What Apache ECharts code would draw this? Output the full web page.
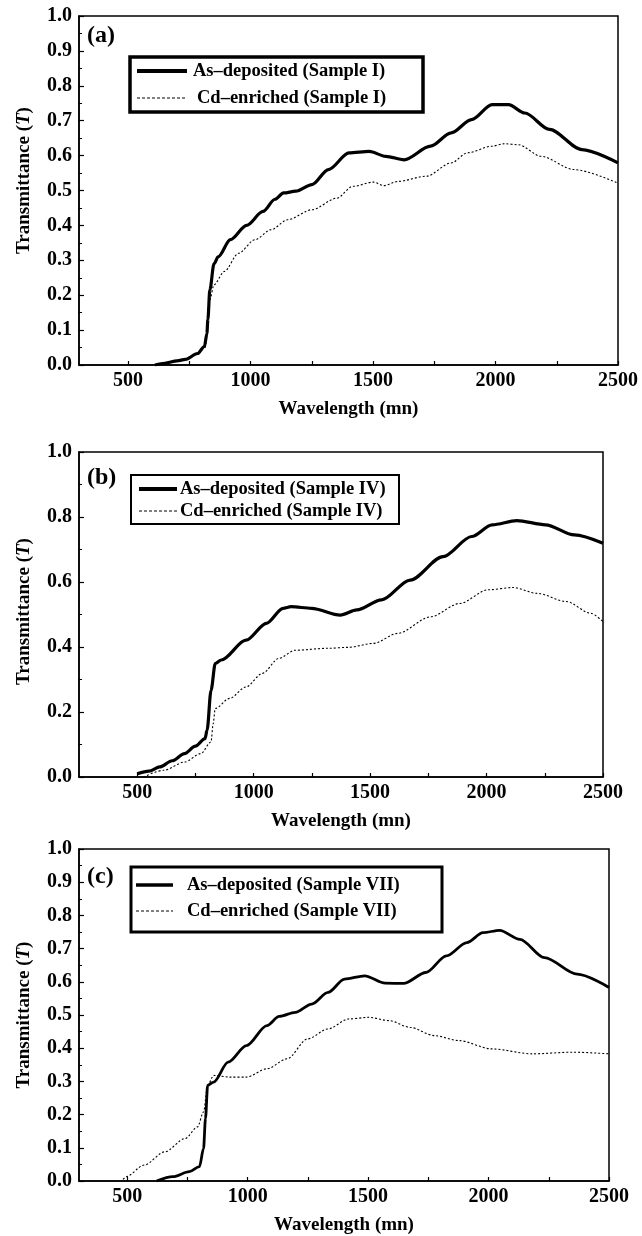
<!DOCTYPE html>
<html><head><meta charset="utf-8">
<script src="https://cdn.jsdelivr.net/npm/echarts@6/dist/echarts.min.js"></script>
<style>html,body{margin:0;padding:0;background:#fff}#c{width:642px;height:1236px}</style>
</head><body><div id="c"></div>
<script>
// ---- data ----
const xLabelValues = [500, 1000, 1500, 2000, 2500];
const xTickValues = [500, 750, 1000, 1250, 1500, 1750, 2000, 2250, 2500];
const xMins = [300, 250, 300];
const yIntervals = [0.1, 0.2, 0.1];
const panelLabels = ['(a)', '(b)', '(c)'];
const xTitle = 'Wavelength (mn)';
const namesA = ['As–deposited (Sample I)', 'Cd–enriched (Sample I)'];
const namesB = ['As–deposited (Sample IV)', 'Cd–enriched (Sample IV)'];
const namesC = ['As–deposited (Sample VII)', 'Cd–enriched (Sample VII)'];

const asDepA = [[610,0],[650,0.005],[700,0.012],[734,0.016],[784,0.033],[812,0.053],[822,0.09],[826,0.13],[834,0.215],[851,0.29],[868,0.31],[918,0.359],[984,0.40],[1051,0.44],[1100,0.475],[1135,0.493],[1185,0.498],[1251,0.517],[1318,0.56],[1402,0.608],[1485,0.612],[1552,0.598],[1627,0.588],[1735,0.627],[1819,0.665],[1902,0.703],[1986,0.746],[2053,0.746],[2120,0.722],[2220,0.675],[2353,0.617],[2500,0.579]];
const cdA = [[620,0],[700,0.01],[780,0.03],[815,0.05],[826,0.12],[834,0.187],[851,0.23],[893,0.268],[951,0.32],[1018,0.359],[1085,0.388],[1151,0.416],[1251,0.445],[1352,0.478],[1418,0.512],[1502,0.524],[1544,0.514],[1602,0.526],[1718,0.541],[1819,0.579],[1886,0.608],[1986,0.627],[2036,0.634],[2094,0.631],[2186,0.598],[2320,0.56],[2500,0.521]];
const asDepB = [[500,0.01],[550,0.018],[597,0.031],[650,0.05],[703,0.072],[750,0.095],[791,0.118],[800,0.144],[817,0.267],[835,0.349],[861,0.36],[967,0.421],[1055,0.473],[1126,0.519],[1161,0.524],[1249,0.519],[1372,0.498],[1443,0.514],[1549,0.545],[1672,0.606],[1813,0.678],[1936,0.74],[2024,0.776],[2130,0.789],[2253,0.776],[2377,0.745],[2500,0.719]];
const cdB = [[527,0],[615,0.021],[703,0.046],[773,0.072],[817,0.108],[826,0.164],[835,0.211],[897,0.242],[967,0.277],[1038,0.319],[1108,0.365],[1178,0.39],[1319,0.396],[1407,0.399],[1513,0.411],[1619,0.442],[1760,0.493],[1884,0.534],[2007,0.576],[2113,0.583],[2218,0.565],[2342,0.54],[2447,0.504],[2500,0.478]];
const asDepC = [[622,0],[690,0.013],[758,0.028],[800,0.043],[817,0.098],[825,0.188],[834,0.288],[859,0.298],[919,0.358],[995,0.408],[1080,0.468],[1131,0.496],[1198,0.508],[1266,0.533],[1334,0.568],[1402,0.608],[1486,0.618],[1571,0.596],[1647,0.595],[1740,0.628],[1825,0.678],[1910,0.718],[1977,0.748],[2046,0.755],[2130,0.728],[2232,0.673],[2368,0.623],[2500,0.583]];
const cdC = [[483,0.005],[495,0.013],[571,0.048],[656,0.088],[741,0.128],[792,0.163],[817,0.208],[834,0.288],[859,0.318],[927,0.313],[995,0.313],[1080,0.338],[1164,0.368],[1249,0.428],[1334,0.458],[1419,0.488],[1503,0.493],[1588,0.483],[1673,0.463],[1775,0.438],[1876,0.423],[2012,0.398],[2182,0.383],[2351,0.388],[2500,0.383]];

// ---- layout / style ----
const F = '"Liberation Serif", "Times New Roman", serif';
const grids = [
  {left: 79, right: 24, top: 16, height: 349},
  {left: 79, right: 39, top: 452, height: 325},
  {left: 79, right: 33, top: 849, height: 334}
];
const yNameShift = [20, 6, 0];
const seriesData = [[asDepA, cdA], [asDepB, cdB], [asDepC, cdC]];
const seriesNames = [namesA, namesB, namesC];
const thick = [3.2, 3.2, 2.8];
const LF = 18.5;

const option = {
  backgroundColor: '#fff',
  animation: false,
  title: panelLabels.map((t, i) => ({
    text: t, left: 87, top: [24, 466, 865][i], padding: 0,
    textStyle: {fontFamily: F, fontWeight: 'bold', fontSize: 24, color: '#000'}
  })),
  grid: grids.map(g => Object.assign({show: true, borderColor: '#000', borderWidth: 1.5, backgroundColor: 'transparent'}, g)),
  xAxis: grids.map((g, i) => ({
    type: 'value', gridIndex: i, min: xMins[i], max: 2500,
    name: xTitle, nameLocation: 'middle', nameGap: 35,
    nameTextStyle: {fontFamily: F, fontWeight: 'bold', fontSize: 19, color: '#000'},
    axisLine: {onZero: false, lineStyle: {color: '#000', width: 1.5}},
    axisTick: {inside: true, length: 4, customValues: xTickValues, lineStyle: {color: '#000', width: 1.2}},
    axisLabel: {customValues: xLabelValues, formatter: v => String(v), margin: 6, fontFamily: F, fontWeight: 'bold', fontSize: 20, color: '#000'},
    splitLine: {show: false}
  })),
  yAxis: grids.map((g, i) => ({
    type: 'value', gridIndex: i, min: 0, max: 1, interval: yIntervals[i],
    name: '{t|Transmittance (}{i|T}{t|)}', nameLocation: 'middle', nameRotate: 90, nameGap: 45,
    nameTextStyle: {
      padding: [0, 0, 0, yNameShift[i]],
      rich: {
        t: {fontFamily: F, fontWeight: 'bold', fontSize: 19, color: '#000'},
        i: {fontFamily: F, fontWeight: 'bold', fontStyle: 'italic', fontSize: 19, color: '#000'}
      }
    },
    axisLine: {lineStyle: {color: '#000', width: 1.5}},
    axisTick: {inside: true, length: 5, lineStyle: {color: '#000', width: 1.2}},
    minorTick: {show: true, splitNumber: 2, length: 3, lineStyle: {color: '#000', width: 1}},
    axisLabel: {formatter: v => v.toFixed(1), margin: 7, fontFamily: F, fontWeight: 'bold', fontSize: 20, color: '#000'},
    splitLine: {show: false}
  })),
  series: [],
  graphic: []
};

seriesData.forEach((pair, i) => {
  option.series.push({
    type: 'line', name: seriesNames[i][0], xAxisIndex: i, yAxisIndex: i, data: pair[0],
    symbol: 'none', smooth: 0.3, smoothMonotone: 'x',
    lineStyle: {color: '#000', width: thick[i]}
  });
  option.series.push({
    type: 'line', name: seriesNames[i][1], xAxisIndex: i, yAxisIndex: i, data: pair[1],
    symbol: 'none', smooth: 0.3, smoothMonotone: 'x',
    lineStyle: {color: '#000', width: 1.1, type: [2, 2]}
  });
});

// legends (drawn as boxes with sample lines and text)
const legendBoxes = [
  {x: 130, y: 57, w: 293, h: 55, bw: 3.5, lx1: 137, lx2: 187, r1: 71, r2: 98, t1: 193, t2: 197},
  {x: 131, y: 475, w: 268, h: 49, bw: 2, lx1: 139, lx2: 177, r1: 489, r2: 511, t1: 180, t2: 180},
  {x: 131, y: 867, w: 311, h: 65, bw: 3, lx1: 136, lx2: 173, r1: 885, r2: 911, t1: 187, t2: 187}
];
legendBoxes.forEach((b, i) => {
  option.graphic.push({type: 'rect', z: 100, shape: {x: b.x, y: b.y, width: b.w, height: b.h},
    style: {fill: '#fff', stroke: '#000', lineWidth: b.bw}});
  option.graphic.push({type: 'line', z: 101, shape: {x1: b.lx1, y1: b.r1, x2: b.lx2, y2: b.r1},
    style: {stroke: '#000', lineWidth: thick[i] + 0.8}});
  option.graphic.push({type: 'line', z: 101, shape: {x1: b.lx1, y1: b.r2, x2: b.lx2, y2: b.r2},
    style: {stroke: '#000', lineWidth: 1, lineDash: [3, 2]}});
  option.graphic.push({type: 'text', z: 101, x: b.t1, y: b.r1,
    style: {text: seriesNames[i][0], fontFamily: F, fontWeight: 'bold', fontSize: LF, fill: '#000', verticalAlign: 'middle'}});
  option.graphic.push({type: 'text', z: 101, x: b.t2, y: b.r2,
    style: {text: seriesNames[i][1], fontFamily: F, fontWeight: 'bold', fontSize: LF, fill: '#000', verticalAlign: 'middle'}});
});

const chart = echarts.init(document.getElementById('c'), null, {renderer: 'canvas'});
chart.setOption(option);
</script>
</body></html>
